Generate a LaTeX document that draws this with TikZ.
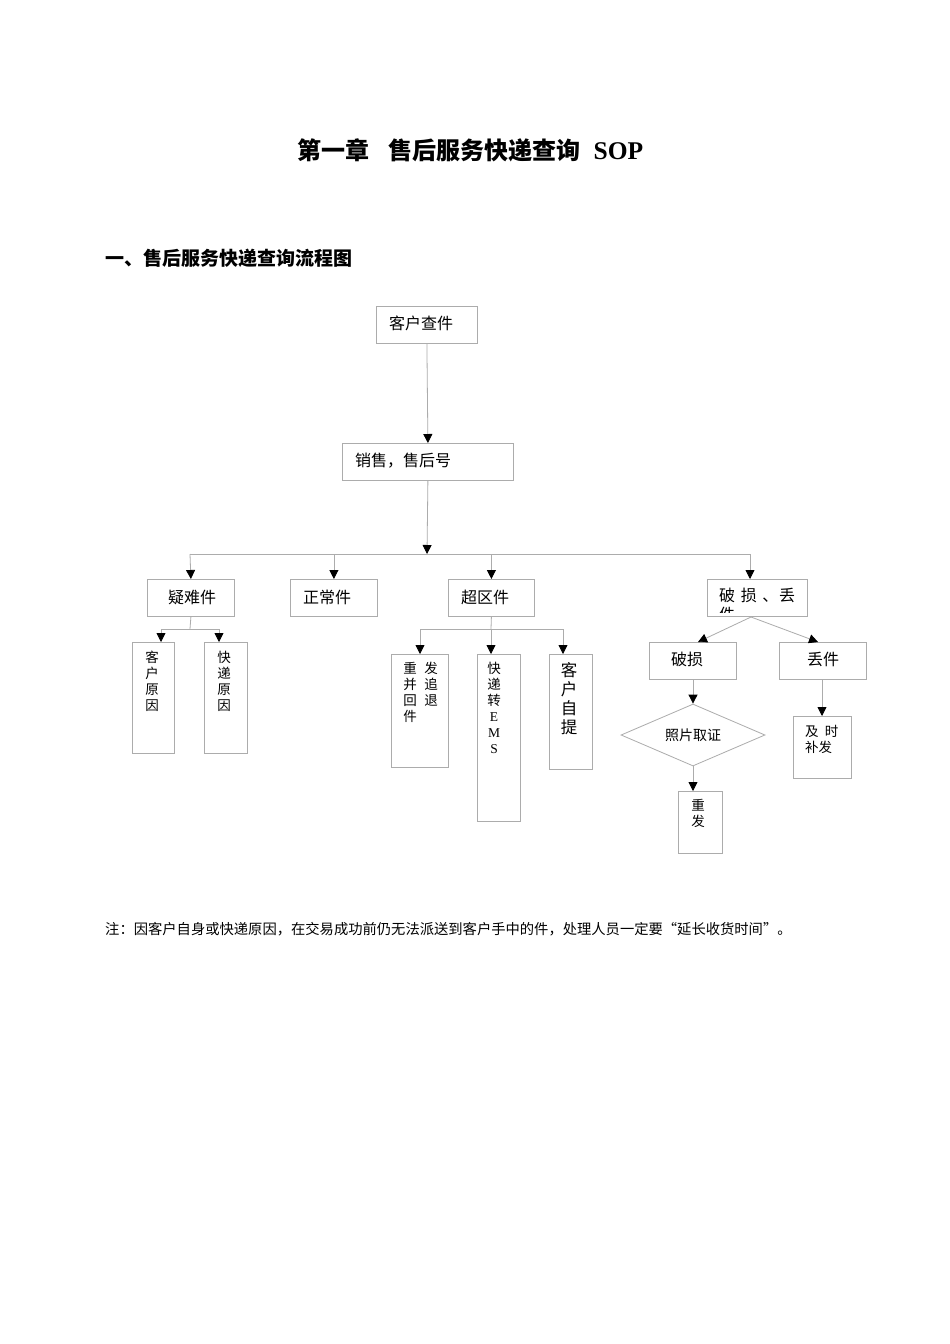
\documentclass[tikz,border=0pt]{standalone}
\usepackage{fontspec}
\setmainfont{Liberation Serif}
\newfontfamily\cjk{Noto Sans CJK SC}
\usetikzlibrary{arrows.meta,shapes.geometric}
\tikzset{
  box/.style={draw=gray!65, line width=0.8pt, rectangle, inner sep=0pt, anchor=north west},
  conn/.style={draw=gray!65, line width=0.8pt},
  arr/.style={conn, -{Triangle[length=9pt,width=9pt,color=black]}},
  txt/.style={inner sep=0pt, anchor=west, font=\cjk\fontsize{16}{16}\selectfont},
  vtxt/.style={inner sep=0pt, anchor=north, align=center, font=\cjk\fontsize{13.5}{16}\selectfont},
}
\begin{document}
\begin{tikzpicture}[x=1pt,y=-1pt]
\path[fill=white, use as bounding box] (0,0) rectangle (950,1344);

% titles
\node[inner sep=0pt, anchor=west, font=\fontsize{24}{24}\selectfont] (title) at (297,150)
  {{\cjk\bfseries 第一章\hspace{0.8em}售后服务快递查询}\hspace{0.55em}{\fontsize{25.5}{25.5}\selectfont\bfseries SOP}};
\node[inner sep=0pt, anchor=west, font=\cjk\bfseries\fontsize{19}{19}\selectfont] (head) at (105,258)
  {一、售后服务快递查询流程图};
\node[inner sep=0pt, anchor=west, font=\cjk\fontsize{14.3}{14.3}\selectfont] (note) at (105,929)
  {注：因客户自身或快递原因，在交易成功前仍无法派送到客户手中的件，处理人员一定要“延长收货时间”。};

% main boxes
\node[box, minimum width=101pt, minimum height=37pt] (q) at (376,306) {};
\node[txt] (qt) at (389,323) {客户查件};
\node[box, minimum width=171pt, minimum height=37pt] (s) at (342,443) {};
\node[txt] (st) at (355,461) {销售，售后号};

\node[box, minimum width=87pt, minimum height=37pt] (yn) at (147,579) {};
\node[txt] (ynt) at (168,597) {疑难件};
\node[box, minimum width=87pt, minimum height=37pt] (zc) at (290,579) {};
\node[txt] (zct) at (303,597) {正常件};
\node[box, minimum width=86pt, minimum height=37pt] (cq) at (448,579) {};
\node[txt] (cqt) at (461,597) {超区件};
\node[box, minimum width=100pt, minimum height=37pt] (dl) at (707,579) {};
\begin{scope}
  \clip (707,579) rectangle (807,612);
  \node[inner sep=0pt, anchor=north west, align=left, font=\cjk\fontsize{16}{19}\selectfont] (dlt) at (719,588)
    {破\hspace{0.35em}损\hspace{0.35em}、\hspace{0.05em}丢\\件};
\end{scope}

% 疑难件 children
\node[box, minimum width=42pt, minimum height=111pt] (kh) at (132,642) {};
\node[vtxt] (kht) at (152,651) {客\\户\\原\\因};
\node[box, minimum width=43pt, minimum height=111pt] (kd) at (204,642) {};
\node[vtxt] (kdt) at (224,651) {快\\递\\原\\因};

% 超区件 children
\node[box, minimum width=57pt, minimum height=113pt] (cf) at (391,654) {};
\node[vtxt] (cft1) at (410,662) {重\\并\\回\\件};
\node[vtxt] (cft2) at (431,662) {发\\追\\退};
\node[box, minimum width=43pt, minimum height=167pt] (ems) at (477,654) {};
\node[vtxt] (emst) at (494,662) {快\\递\\转\\{\rmfamily E}\\{\rmfamily M}\\{\rmfamily S}};
\node[box, minimum width=43pt, minimum height=115pt] (zt) at (549,654) {};
\node[vtxt, font=\cjk\fontsize{16.5}{19}\selectfont] (ztt) at (569,662) {客\\户\\自\\提};

% 破损 / 丢件
\node[box, minimum width=87pt, minimum height=37pt] (ps) at (649,642) {};
\node[txt] (pst) at (671,659) {破损};
\node[box, minimum width=87pt, minimum height=37pt] (dj) at (779,642) {};
\node[txt] (djt) at (807,659) {丢件};
\node[draw=gray!65, line width=0.8pt, diamond, aspect=2.3, inner sep=0pt, minimum width=144pt, minimum height=62pt,
      font=\cjk\fontsize{14}{14}\selectfont] (zp) at (693,735) {照片取证};
\node[box, minimum width=44pt, minimum height=62pt] (cfa) at (678,791) {};
\node[vtxt] (cfat) at (698,799) {重\\发};
\node[box, minimum width=58pt, minimum height=62pt] (bf) at (793,716) {};
\node[inner sep=0pt, anchor=north west, align=left, font=\cjk\fontsize{13.5}{16}\selectfont] (bft) at (805,725)
  {及\hspace{0.45em}时\\补发};

% connectors
\draw[arr] (q.south) -- (s.north);
\coordinate (j1) at (427,554);
\coordinate (hL) at (190,554);
\coordinate (hR) at (750,554);
\draw[arr] (s.south) -- (j1);
\draw[conn] (hL) -- (hR);
\draw[arr] (hL) -- (yn.north);
\draw[arr] (zc.north |- hL) -- (zc.north);
\draw[arr] (cq.north |- hL) -- (cq.north);
\draw[arr] (hR) -- (hR |- dl.north);

\coordinate (y1) at (190,629);
\coordinate (yL) at (161,629);
\coordinate (yR) at (219,629);
\draw[conn] (yn.south) -- (y1);
\draw[conn] (yL) -- (yR);
\draw[arr] (yL) -- (yL |- kh.north);
\draw[arr] (yR) -- (yR |- kd.north);

\coordinate (c1) at (491,629);
\coordinate (cL) at (420,629);
\coordinate (cR) at (563,629);
\draw[conn] (cq.south) -- (c1);
\draw[conn] (cL) -- (cR);
\draw[arr] (cL) -- (cL |- cf.north);
\draw[arr] (c1) -- (c1 |- ems.north);
\draw[arr] (cR) -- (cR |- zt.north);

\coordinate (d0) at (751,617);
\coordinate (dL) at (698,642);
\coordinate (dR) at (818,642);
\draw[arr] (d0) -- (dL);
\draw[arr] (d0) -- (dR);
\draw[arr] (ps.south -| zp.north) -- (zp.north);
\draw[arr] (zp.south) -- (zp.south |- cfa.north);
\coordinate (dj1) at (822,679);
\draw[arr] (dj1) -- (dj1 |- bf.north);
\end{tikzpicture}
\end{document}
